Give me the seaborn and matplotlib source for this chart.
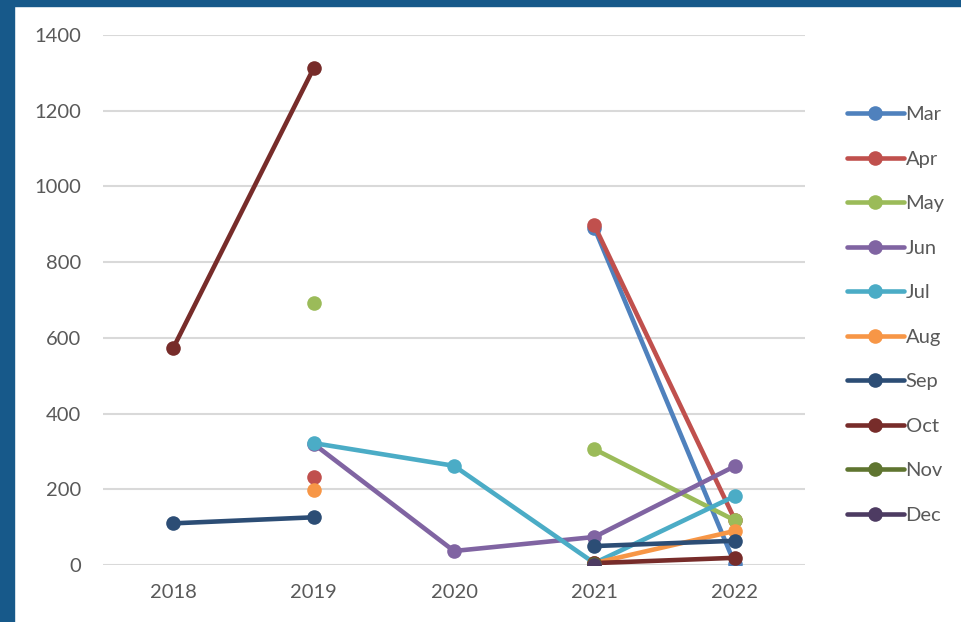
import numpy as np
import pandas as pd
import seaborn as sns
import matplotlib.pyplot as plt
from matplotlib.lines import Line2D
from matplotlib.patches import Rectangle

nan = np.nan
years = [2018, 2019, 2020, 2021, 2022]
months = ["Mar", "Apr", "May", "Jun", "Jul", "Aug", "Sep", "Oct", "Nov", "Dec"]
mar = [nan, nan, nan, 890, 3]
apr = [nan, 232, nan, 897, 120]
may = [nan, 693, nan, 306, 118]
jun = [nan, 320, 37, 74, 261]
jul = [nan, 322, 262, 5, 182]
aug = [nan, 198, nan, 5, 90]
sep = [110, 126, nan, 50, 64]
oct_ = [573, 1312, nan, 5, 19]
nov = [nan, nan, nan, 2, nan]
dec = [nan, nan, nan, 0, nan]
series = [mar, apr, may, jun, jul, aug, sep, oct_, nov, dec]
colors = ["#4F81BD", "#C0504D", "#9BBB59", "#8064A2", "#4BACC6",
          "#F79646", "#2C4D75", "#772C2A", "#5F7530", "#4D3B62"]

# long table; gaps split a series into separate segments
rows = []
for m, vals in zip(months, series):
    seg = 0
    prev_ok = False
    for y, v in zip(years, vals):
        if np.isnan(v):
            prev_ok = False
            continue
        if not prev_ok:
            seg += 1
        rows.append({"year": y, "value": v, "month": m, "seg": f"{m}{seg}"})
        prev_ok = True
df = pd.DataFrame(rows)

sns.set_style("white")
plt.rcParams["font.family"] = ["Lato", "DejaVu Sans"]

fig = plt.figure(figsize=(9.61, 6.22), dpi=100)
ax = fig.add_axes([103 / 961, 1 - 565 / 622, 702 / 961, 530 / 622])

ax.set_ylim(0, 1400)
ax.set_xlim(2017.5, 2022.5)
ax.set_yticks(range(0, 1401, 200))
ax.yaxis.grid(True, color="#D9D9D9", lw=1.5)
ax.set_axisbelow(True)

sns.lineplot(data=df, x="year", y="value", hue="month", units="seg",
             estimator=None, hue_order=months, palette=colors,
             marker="o", markersize=10.5, markeredgewidth=0, lw=3.3,
             legend=False, ax=ax)

ax.set_xticks(years)
ax.set_xticklabels([str(y) for y in years])
ax.tick_params(axis="both", length=0, labelsize=14.5, labelcolor="#595959")
ax.tick_params(axis="x", pad=14)
ax.tick_params(axis="y", pad=16)
ax.set_xlabel("")
ax.set_ylabel("")
for s in ax.spines.values():
    s.set_visible(False)

handles = [Line2D([], [], color=c, lw=3.3, marker="o", markersize=10.5,
                  markeredgewidth=0) for c in colors]
leg = fig.legend(handles, months, loc="upper left",
                 bbox_to_anchor=(829 / 961, 1 - 88 / 622),
                 frameon=False, fontsize=14.5, labelcolor="#595959",
                 handlelength=2.8, handletextpad=0.1, labelspacing=1.36)

fig.patches.append(Rectangle((0, 0), 14 / 961, 1, transform=fig.transFigure,
                             color="#17598A", zorder=10))
fig.patches.append(Rectangle((0, 1 - 6 / 622), 1, 6 / 622, transform=fig.transFigure,
                             color="#17598A", zorder=10))

fig.savefig("out.png", dpi=100)
